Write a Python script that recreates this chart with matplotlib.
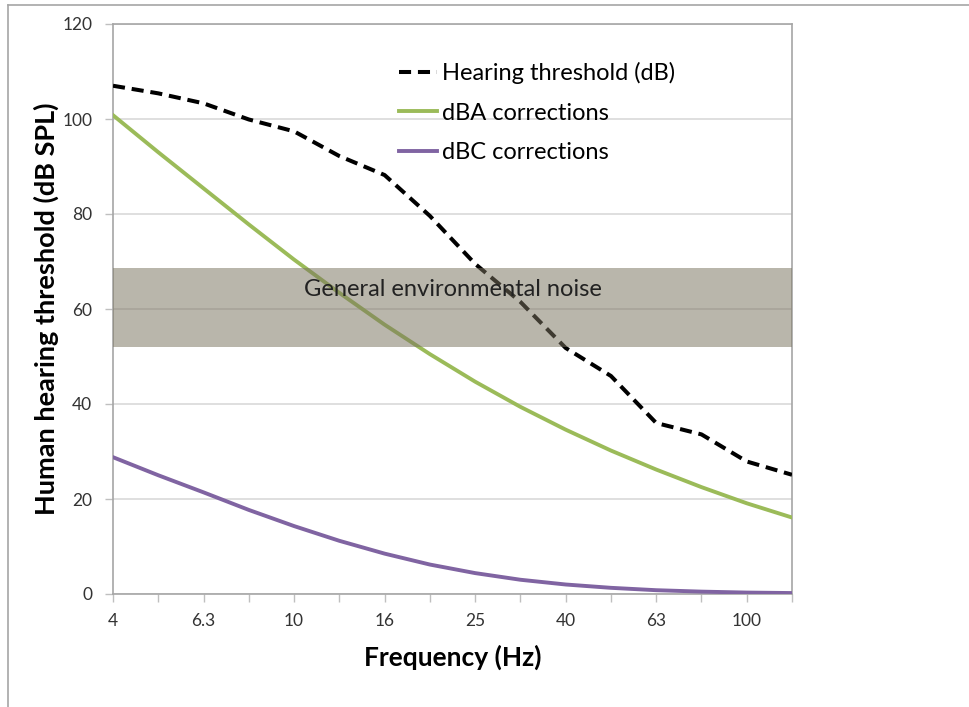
import matplotlib
matplotlib.use("Agg")
import matplotlib.pyplot as plt
from matplotlib.lines import Line2D

freq_labels = ["4", "5", "6.3", "8", "10", "12.5", "16", "20", "25", "31.5",
               "40", "50", "63", "80", "100", "125"]
hearing = [107.0, 105.4, 103.3, 99.9, 97.4, 92.2, 88.2, 79.6, 69.5, 61.5,
           51.8, 45.9, 36.0, 33.6, 27.9, 25.1]
dba = [100.8, 93.0, 85.4, 77.8, 70.4, 63.4, 56.7, 50.5, 44.7, 39.4,
       34.6, 30.2, 26.2, 22.5, 19.1, 16.1]
dbc = [28.8, 25.0, 21.4, 17.7, 14.3, 11.2, 8.5, 6.2, 4.4, 3.0,
       2.0, 1.3, 0.8, 0.5, 0.3, 0.2]
band_low, band_high = 52.0, 68.6
band_text = "General environmental noise"
labeled_ticks = ["4", "6.3", "10", "16", "25", "40", "63", "100"]

plt.rcParams['font.family'] = ['Lato', 'DejaVu Sans']

fig = plt.figure(figsize=(9.69, 7.07), dpi=100)
ax = fig.add_axes([113/969, 113/707, (792-113)/969, (594-24)/707])

x = list(range(len(freq_labels)))
ax.plot(x, hearing, color="black", lw=2.9, linestyle=(0, (3.0, 1.7)),
        label="Hearing threshold (dB)", zorder=3)
ax.plot(x, dba, color="#9BBB59", lw=2.8, label="dBA corrections", zorder=3)
ax.plot(x, dbc, color="#8064A2", lw=2.8, label="dBC corrections", zorder=3)

ax.axhspan(band_low, band_high, color="#7A735F", alpha=0.52, lw=0, zorder=4)
ax.text(7.5, (band_low + band_high)/2 + 3.8, band_text,
        ha="center", va="center", fontsize=17, color="#222222", zorder=5)

ax.set_xlim(0, len(x)-1)
ax.set_ylim(0, 120)
ax.set_yticks(range(0, 121, 20))
ax.set_xticks(x, minor=True)
ax.set_xticks([freq_labels.index(t) for t in labeled_ticks])
ax.set_xticklabels(labeled_ticks)
ax.tick_params(axis="x", which="both", length=6, width=1, color="#BFBFBF",
               direction="out", labelsize=12.5, pad=8, labelcolor="#333333")
ax.tick_params(axis="y", which="major", length=6, width=1, color="#BFBFBF",
               direction="out", labelsize=12.5, pad=9, labelcolor="#333333")
ax.grid(axis="y", color="#D9D9D9", lw=1.2, zorder=0)
ax.set_axisbelow(True)
for s in ax.spines.values():
    s.set_color("#A6A6A6")
    s.set_linewidth(1.2)

ax.set_xlabel("Frequency (Hz)", fontsize=19, fontweight="bold", labelpad=11)
ax.set_ylabel("Human hearing threshold (dB SPL)", fontsize=19.5,
              fontweight="bold", labelpad=2)

leg = ax.legend(loc="upper left", bbox_to_anchor=(0.4075, 0.95), frameon=False,
                fontsize=17, handlelength=1.6, handletextpad=0.22,
                labelspacing=0.79, borderaxespad=0)

# outer chart frame
fig.add_artist(Line2D([8/969, 8/969], [0, 1 - 5/707], color="#A6A6A6", lw=1.2,
                      transform=fig.transFigure))
fig.add_artist(Line2D([8/969, 1], [1 - 5/707, 1 - 5/707], color="#A6A6A6",
                      lw=1.2, transform=fig.transFigure))

fig.savefig("out.png", dpi=100)
